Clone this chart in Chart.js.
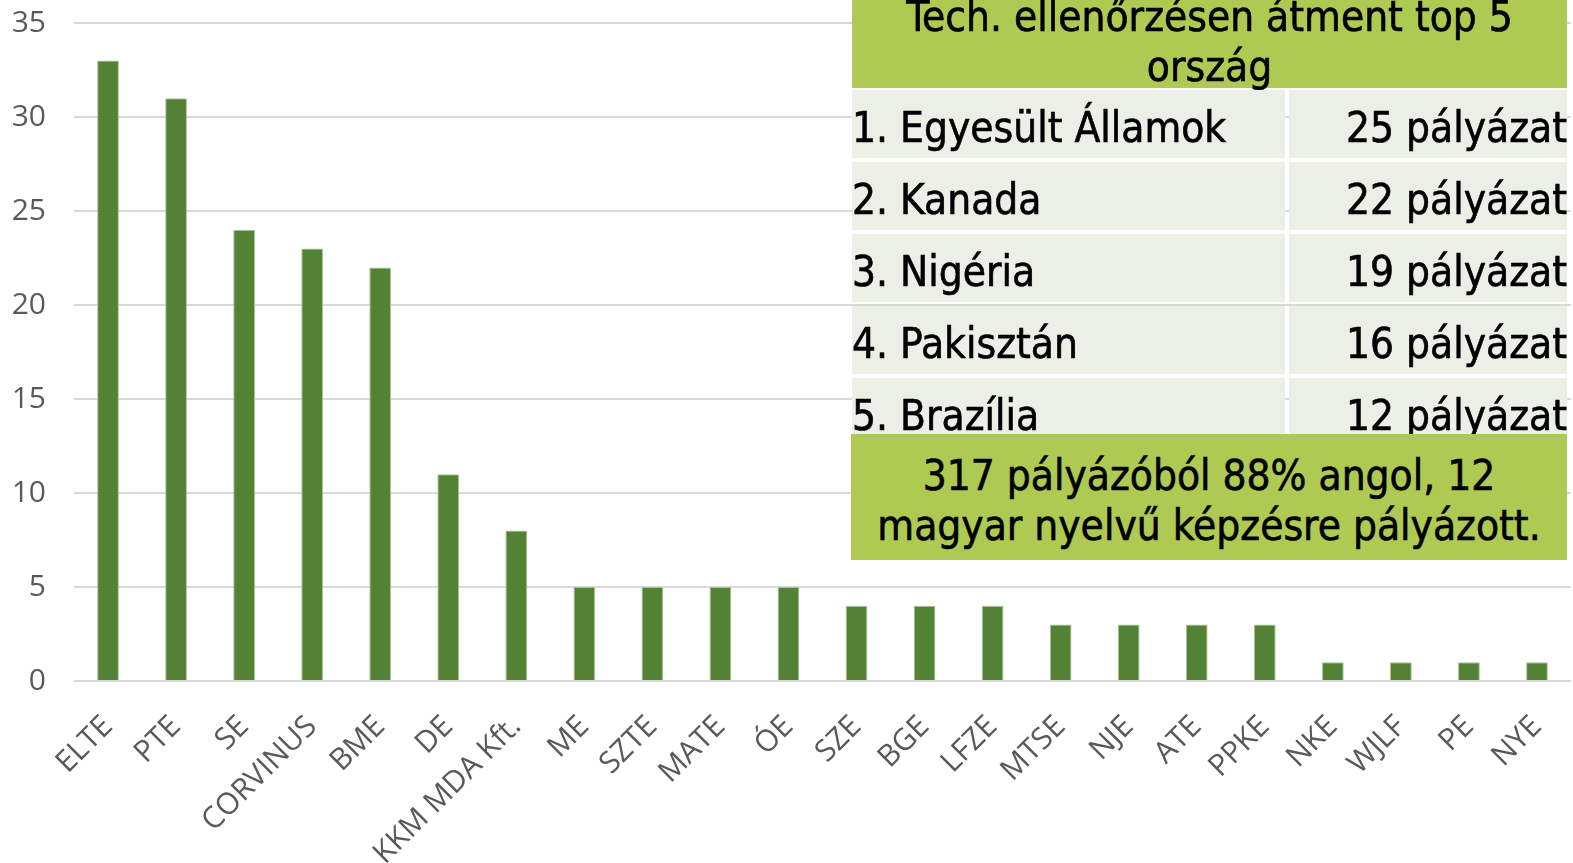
<!DOCTYPE html>
<html>
<head>
<meta charset="utf-8">
<script src="https://cdn.jsdelivr.net/npm/chart.js"></script>
<style>
  html, body { margin: 0; padding: 0; background: #fff; overflow: hidden; }
  #wrap { position: relative; width: 1573px; height: 863px; }
  #chart { position: absolute; left: 0; top: 0; }
  .box { position: absolute; font-family: "DejaVu Sans Condensed", "Liberation Sans Narrow", sans-serif; color: #000; -webkit-text-stroke: 0.6px #000; }
  #head { left: 852px; top: -8px; width: 715px; height: 96px; background: #afca52; font-size: 42px; line-height: 50px; text-align: center; }
  #rows { left: 852px; top: 90px; width: 715px; }
  .row { display: flex; height: 68px; margin-bottom: 4px; }
  .row div { background: #ebf0e6; font-size: 42px; line-height: 76px; height: 68px; overflow: hidden; white-space: nowrap; }
  .row .c1 { width: 433px; margin-right: 4px; }
  .row .c2 { flex: 1; text-align: right; }
  #note { left: 851px; top: 434px; width: 716px; height: 126px; background: #afca52; font-size: 42px; line-height: 50px; text-align: center; padding-top: 17px; box-sizing: border-box; white-space: nowrap; }
</style>
</head>
<body>
<div id="wrap">
  <canvas id="chart" width="1573" height="863"></canvas>
  <div class="box" id="head"></div>
  <div class="box" id="rows"></div>
  <div class="box" id="note"></div>
</div>
<script>
// intézmények és a pályázók száma
const categories = ['ELTE', 'PTE', 'SE', 'CORVINUS', 'BME', 'DE', 'KKM MDA Kft.', 'ME', 'SZTE', 'MATE', 'ÓE',
  'SZE', 'BGE', 'LFZE', 'MTSE', 'NJE', 'ATE', 'PPKE', 'NKE', 'WJLF', 'PE', 'NYE'];
const values = [33, 31, 24, 23, 22, 11, 8, 5, 5, 5, 5, 4, 4, 4, 3, 3, 3, 3, 1, 1, 1, 1];

// top 5 ország
const countries = ['1. Egyesült Államok', '2. Kanada', '3. Nigéria', '4. Pakisztán', '5. Brazília'];
const countryCounts = ['25 pályázat', '22 pályázat', '19 pályázat', '16 pályázat', '12 pályázat'];
const headTitle = ['Tech. ellenőrzésen átment top 5', 'ország'];
const noteText = ['317 pályázóból 88% angol, 12', 'magyar nyelvű képzésre pályázott.'];

document.getElementById('head').innerHTML = headTitle.join('<br>');
document.getElementById('note').innerHTML = noteText.join('<br>');
document.getElementById('rows').innerHTML = countries.map((c, i) =>
  '<div class="row"><div class="c1">' + c + '</div><div class="c2">' + countryCounts[i] + '</div></div>').join('');

const tickFont = { family: '"Open Sans", "DejaVu Sans", sans-serif', size: 30 };

new Chart(document.getElementById('chart'), {
  type: 'bar',
  data: {
    labels: categories,
    datasets: [{
      data: values,
      backgroundColor: '#548235',
      borderColor: '#a9c49a',
      borderWidth: 1,
      categoryPercentage: 1,
      barPercentage: 0.32
    }]
  },
  options: {
    responsive: false,
    animation: false,
    layout: { padding: { top: 2, right: 2, left: 0, bottom: 0 } },
    plugins: { legend: { display: false }, tooltip: { enabled: false } },
    scales: {
      x: {
        grid: { display: false },
        border: { display: false },
        ticks: { color: '#595959', font: tickFont, minRotation: 45, maxRotation: 45, autoSkip: false, padding: 20 },
        afterFit(scale) {
          scale.height = 182;
          scale.paddingRight = 0;
          scale.paddingLeft = 0;
        }
      },
      y: {
        min: 0,
        max: 35,
        grid: { color: '#d9d9d9', lineWidth: 2, drawTicks: false },
        border: { display: false },
        ticks: { stepSize: 5, color: '#595959', font: tickFont, padding: 28 },
        afterFit(scale) {
          scale.width = 74;
          scale.paddingTop = 23;
        }
      }
    }
  }
});
</script>
</body>
</html>
